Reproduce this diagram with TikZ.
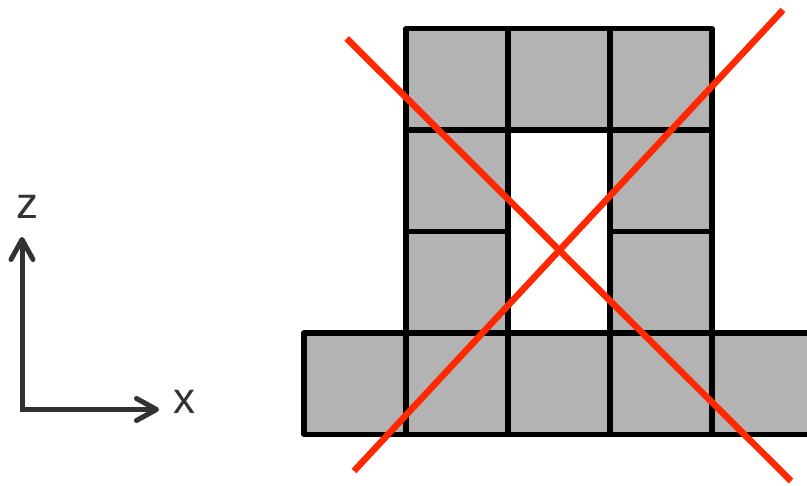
\documentclass[tikz,border=0pt]{standalone}
\usepackage{fontspec}
\setmainfont{Liberation Sans}
\usetikzlibrary{arrows.meta}

\definecolor{cellgray}{RGB}{179,179,179}
\definecolor{crossred}{RGB}{255,40,0}
\definecolor{axisdark}{RGB}{51,51,51}

\begin{document}
\begin{tikzpicture}[x=1pt, y=-1pt,
  cell/.style={draw, fill=cellgray, line width=5.3pt, line join=round,
    minimum width=102pt, minimum height=101.5pt, inner sep=0pt},
  cross/.style={draw=crossred, line width=6.5pt},
  axis/.style={draw=axisdark, line width=5pt, line cap=rect,
    -{Straight Barb[length=20pt, width=22pt, line cap=round, line join=round]}},
  axislabel/.style={text=axisdark, font=\fontsize{44}{48}\selectfont, inner sep=0pt}]
\useasboundingbox (0,0) rectangle (807,486);
\clip (0,0) rectangle (807,486);

% blocks
\foreach \i in {1,2,3} \node[cell] (top-\i) at (355+102*\i,79.25) {};
\foreach \i in {1,3} {
  \node[cell] (upper-\i) at (355+102*\i,180.75) {};
  \node[cell] (lower-\i) at (355+102*\i,282.25) {};
}
\foreach \i in {0,...,4} \node[cell] (base-\i) at (355+102*\i,383.75) {};

% cross
\coordinate (ca) at (346.7,38.5);
\coordinate (cb) at (791,481);
\coordinate (cc) at (783,10);
\coordinate (cd) at (354,471);
\draw[cross] (ca) -- (cb);
\draw[cross] (cc) -- (cd);

% axes
\coordinate (origin) at (22,409.5);
\coordinate (xend) at (159,409.5);
\coordinate (zend) at (22,237);
\draw[axis] (origin) -- (xend);
\draw[axis] (origin) -- (zend);
\node[axislabel] (xlabel) at (184,402) {x};
\node[axislabel] (zlabel) at (27.5,206.5) {z};
\end{tikzpicture}
\end{document}
